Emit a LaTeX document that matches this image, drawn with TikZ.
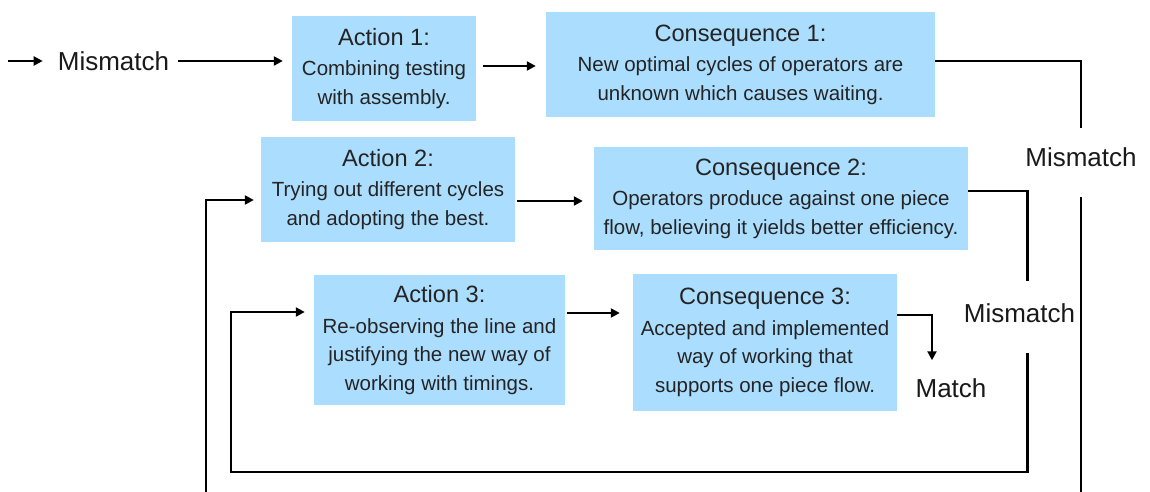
\documentclass[tikz,border=0pt]{standalone}
\usepackage{fontspec}
\setmainfont{Liberation Sans}
\usetikzlibrary{
  arrows.meta,
  positioning,
}
\definecolor{boxblue}{RGB}{171,221,254}
\definecolor{inkgray}{RGB}{36,36,36}
\newcommand\boxtitle{\fontsize{23.6}{28}\selectfont}
\tikzset{
  block/.style={
    rectangle,
    inner sep=0pt,
    align=center,
    fill=boxblue,
    text=inkgray,
    font=\fontsize{20.5}{28.5}\selectfont
  },
  verdict/.style={
    inner sep=0pt,
    text=black!90,
    font=\fontsize{26}{30}\selectfont
  },
  arrow/.style={
    line width=2.2pt,
    -{Triangle[length=9pt, width=9pt]},
  },
  link/.style={
    line width=2.2pt,
  },
}

\begin{document}
\begin{tikzpicture}[x=1pt, y=-1pt]
  \useasboundingbox (0,0) rectangle (1150,492);

  % Actions
  \node (act1) [block, minimum width=184, minimum height=105] at (384,68.5)
    {{\boxtitle Action 1:}\\[2pt] Combining testing\\ with assembly.};
  \node (act2) [block, minimum width=254, minimum height=105] at (388,189.5)
    {{\boxtitle Action 2:}\\[2pt] Trying out different cycles\\ and adopting the best.};
  \node (act3) [block, minimum width=251, minimum height=130] at (439.5,340)
    {{\boxtitle Action 3:}\\[2pt] Re-observing the line and\\ justifying the new way of\\ working with timings.};

  % Consequences
  \node (cons1) [block, minimum width=389, minimum height=105] at (740.5,64.5)
    {{\boxtitle Consequence 1:}\\[2pt] New optimal cycles of operators are\\ unknown which causes waiting.};
  \node (cons2) [block, minimum width=374, minimum height=103] at (781,198.5)
    {{\boxtitle Consequence 2:}\\[2pt] Operators produce against one piece\\ flow, believing it yields better efficiency.};
  \node (cons3) [block, minimum width=264, minimum height=137] at (765,342.5)
    {{\boxtitle Consequence 3:}\\[2pt] Accepted and implemented\\ way of working that\\ supports one piece flow.};

  % Outcomes
  \coordinate (start) at (8,61);
  \node (mis0) [verdict] at (113.5,61) {Mismatch};
  \node (misR1) [verdict] at (1081,157.5) {Mismatch};
  \node (misR2) [verdict] at (1019.5,313) {Mismatch};
  \node (match) [verdict] at (951,388) {Match};

  % Arrows
  \draw [arrow, shorten >=15pt] (start) -- (mis0.west);
  \draw [arrow, shorten <=9pt, shorten >=9pt] (mis0.east) -- (mis0.east -| act1.west);
  \draw [arrow, shorten <=7pt, shorten >=10pt]
    ([yshift=2.5pt]act1.east) -- ([yshift=2.5pt]act1.east -| cons1.west);
  \draw [arrow, shorten <=2pt, shorten >=11pt]
    ([yshift=-11.5pt]act2.east) -- ([yshift=-11.5pt]act2.east -| cons2.west);
  \draw [arrow, shorten <=2pt, shorten >=13pt]
    ([yshift=27pt]act3.east) -- ([yshift=27pt]act3.east -| cons3.west);

  % Feedback loops
  \draw [link] ([yshift=3.5pt]cons1.east) -| ([yshift=20pt]misR1.north);
  \draw [arrow, shorten >=7pt] ([yshift=-30pt]misR1.south)
    |- ([xshift=-55pt, yshift=-320pt]act2.west)
    |- ([yshift=-10.5pt]act2.west);

  \draw [link] ([yshift=7.5pt]cons2.east) -| ([xshift=8pt, yshift=22pt]misR2.north);
  \draw [arrow, shorten >=9pt] ([xshift=8pt, yshift=-30pt]misR2.south)
    |- ([xshift=-83pt, yshift=-132pt]act3.west)
    |- ([yshift=28pt]act3.west);

  \draw [arrow] ([yshift=27.5pt]cons3.east) -| ([xshift=-19pt, yshift=18pt]match.north);

\end{tikzpicture}
\end{document}
